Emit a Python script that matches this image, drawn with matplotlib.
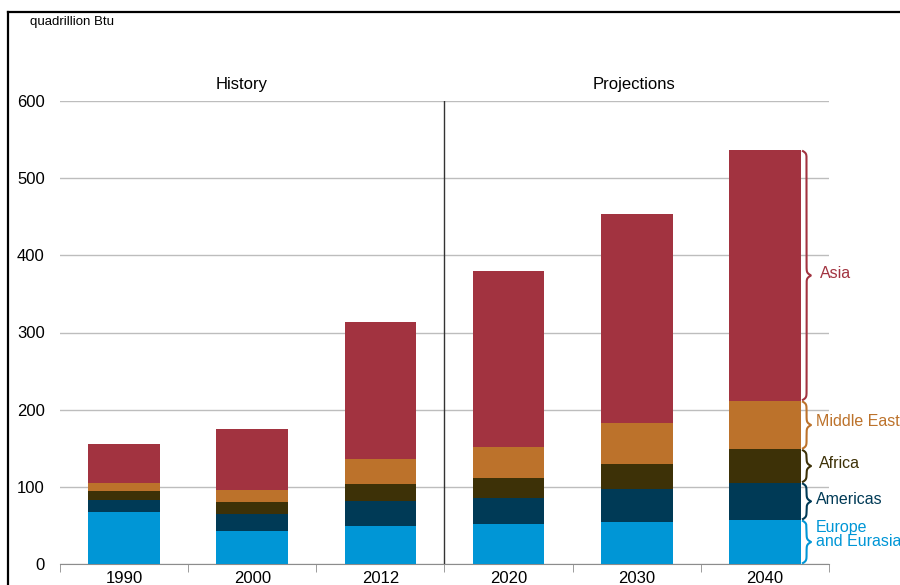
import numpy as np
import matplotlib
matplotlib.use("Agg")
import matplotlib.pyplot as plt
from matplotlib.lines import Line2D

plt.rcParams["font.family"] = ["Liberation Sans", "DejaVu Sans"]

# ── data (quadrillion Btu) ──────────────────────────────────────────────────
years = ["1990", "2000", "2012", "2020", "2030", "2040"]
regions = ["Europe\nand Eurasia", "Americas", "Africa", "Middle East", "Asia"]
europe   = [67.4, 42.4, 49.6, 51.8, 54.8, 57.0]
americas = [16.0, 22.4, 32.0, 33.2, 42.0, 48.3]
africa   = [11.2, 15.2, 22.0, 26.4, 32.7, 43.3]
mideast  = [10.7, 15.9, 32.0, 40.6, 52.8, 62.9]
asia     = [50.1, 79.0, 178.0, 227.5, 271.0, 324.8]
colors = ["#0096D6", "#003A56", "#3D3107", "#BC722B", "#A23340"]
series = [europe, americas, africa, mideast, asia]

# ── figure ──────────────────────────────────────────────────────────────────
fig = plt.figure(figsize=(9, 5.85), dpi=100)
ax = fig.add_axes([60 / 900, 1 - 564 / 585, 769 / 900, 463 / 585])

x = np.arange(len(years))
bottom = np.zeros(len(years))
for vals, col in zip(series, colors):
    ax.bar(x, vals, width=0.56, bottom=bottom, color=col, linewidth=0, zorder=3)
    bottom += np.array(vals)

ax.set_xlim(-0.5, len(years) - 0.5)
ax.set_ylim(0, 600)
ax.set_yticks(range(0, 601, 100))
ax.yaxis.grid(True, color="#BDBDBD", linewidth=1, zorder=0)
ax.tick_params(axis="y", length=0, pad=11, labelsize=12)

ax.set_xticks(x)
ax.set_xticklabels(years)
ax.set_xticks(np.arange(-0.5, len(years)), minor=True)
ax.tick_params(axis="x", which="major", length=0, pad=5, labelsize=12)
ax.tick_params(axis="x", which="minor", length=6, color="#8C8C8C", direction="out")

for side in ["top", "right", "left"]:
    ax.spines[side].set_visible(False)
ax.spines["bottom"].set_color("#8C8C8C")

# history / projections divider
ax.axvline(2.5, color="#333333", linewidth=1, zorder=4)
ax.text(0.92, 612, "History", ha="center", va="bottom", fontsize=12)
ax.text(3.98, 612, "Projections", ha="center", va="bottom", fontsize=12)

# ── braces next to the last bar ────────────────────────────────────────────
def brace(ax, x0, y0, y1, width, color, k=0.6):
    t = np.linspace(y0, y1, 600)
    mid = (y0 + y1) / 2
    half = np.where(t <= mid, t, y0 + y1 - t)
    f = 1 / (1 + np.exp(-k * (half - y0))) + 1 / (1 + np.exp(-k * (half - mid)))
    ax.plot(x0 + width * (f - 0.5), t, color=color, linewidth=1.5,
            clip_on=False, zorder=5, solid_capstyle="butt")

last = len(years) - 1
lo = 0.0
label_shift = [10, 2, 3, 5, 3]
label_x = [0.40, 0.40, 0.42, 0.395, 0.43]
for name, vals, col, dy, lx in zip(regions, series, colors, label_shift, label_x):
    hi = lo + vals[last]
    brace(ax, last + 0.29, lo + 0.6, hi - 0.6, 0.07, col)
    ax.text(last + lx, (lo + hi) / 2 + dy, name, color=col, fontsize=11.5,
            ha="left", va="center", linespacing=0.9, clip_on=False)
    lo = hi

fig.text(30 / 900, 1 - 22 / 585, "quadrillion Btu", fontsize=9.5,
         ha="left", va="center")

# outer frame (only top and left edges fall inside the picture)
fig.add_artist(Line2D([8 / 900, 1.0], [1 - 12 / 585] * 2, color="black",
                      linewidth=1.6, transform=fig.transFigure))
fig.add_artist(Line2D([8 / 900] * 2, [0.0, 1 - 12 / 585], color="black",
                      linewidth=1.6, transform=fig.transFigure))

fig.savefig("out.png", dpi=100)
